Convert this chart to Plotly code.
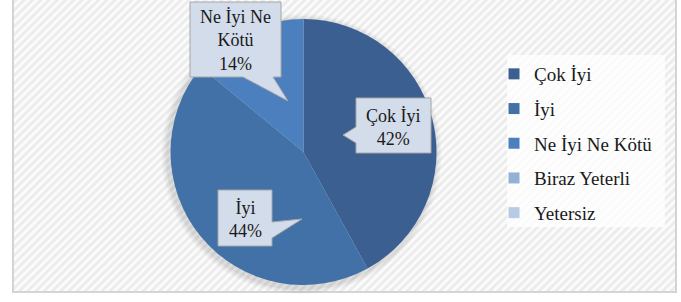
import base64
import plotly.graph_objects as go

# ---- data ----
categories = ["Çok İyi", "İyi", "Ne İyi Ne Kötü", "Biraz Yeterli", "Yetersiz"]
values = [42, 44, 14, 0, 0]
colors = ["#3a5f90", "#4271a8", "#4b7fbd", "#94b0d6", "#b8cbe4"]

W, H = 681, 302
FONT = "Liberation Serif"


def px(x):
    return x / W


def py(y):
    return 1 - y / H


# pie box in pixels
PIE_L, PIE_R, PIE_T, PIE_B = 170, 437, 19, 285

fig = go.Figure()
fig.add_trace(go.Pie(
    labels=categories, values=values, sort=False, direction="clockwise",
    rotation=0, marker=dict(colors=colors, line=dict(width=0)),
    textinfo="none", hoverinfo="label+percent", showlegend=False,
    domain=dict(x=[px(PIE_L), px(PIE_R)], y=[py(PIE_B), py(PIE_T)]),
))

# legend entries (one per category)
for i, (c, col) in enumerate(zip(categories, colors)):
    fig.add_trace(go.Scatter(
        x=[None], y=[None], mode="markers", name=c, legendgroup=f"g{i}",
        marker=dict(symbol="square", size=11, color=col), hoverinfo="skip",
    ))

shapes = []
# frame
shapes.append(dict(type="rect", xref="paper", yref="paper", layer="below",
                   x0=px(13), x1=px(676), y0=py(292), y1=py(-4),
                   line=dict(color="#d4d4d4", width=2), fillcolor="rgba(0,0,0,0)"))
# soft pie shadow
cx, cy = (PIE_L + PIE_R) / 2, (PIE_T + PIE_B) / 2
r = (PIE_B - PIE_T) / 2
for k, a in [(7, 0.03), (5, 0.04), (3, 0.05)]:
    shapes.append(dict(type="circle", xref="paper", yref="paper", layer="below",
                       x0=px(cx - r - k - 2), x1=px(cx + r + k - 2),
                       y0=py(cy + r + k + 2), y1=py(cy - r - k + 2),
                       line=dict(width=0), fillcolor=f"rgba(0,0,0,{a})"))
# legend background
shapes.append(dict(type="rect", xref="paper", yref="paper", layer="below",
                   x0=px(507), x1=px(665), y0=py(227), y1=py(55),
                   line=dict(width=0), fillcolor="rgba(255,255,255,0.75)"))


def callout(pts):
    d = "M " + " L ".join(f"{px(x)},{py(y)}" for x, y in pts) + " Z"
    return dict(type="path", xref="paper", yref="paper", path=d, layer="above",
                fillcolor="#d3dcea", line=dict(color="#a6a6a6", width=1))


# Ne İyi Ne Kötü: pointer from bottom edge
shapes.append(callout([(190, 2), (281, 2), (281, 77), (273, 77), (288, 101),
                       (243, 77), (190, 77)]))
# Çok İyi: pointer from left edge
shapes.append(callout([(356, 98), (431, 98), (431, 153), (356, 153), (356, 143),
                       (343, 135), (356, 127)]))
# İyi: pointer from right edge
shapes.append(callout([(218, 190), (272, 190), (272, 222), (302, 219), (272, 238),
                       (272, 246), (218, 246)]))

total = sum(values)
label_pos = {0: (393, 127), 1: (245, 219), 2: (235, 40)}
label_text = {0: "Çok İyi", 1: "İyi", 2: "Ne İyi Ne<br>Kötü"}
annotations = []
for i, (x, y) in label_pos.items():
    pct = round(values[i] / total * 100)
    annotations.append(dict(
        x=px(x), y=py(y), xref="paper", yref="paper", showarrow=False,
        xanchor="center", yanchor="middle",
        text=f"{label_text[i]}<br>{pct}%", align="center",
        font=dict(family=FONT, size=18, color="#1a1a1a"),
    ))

# hatch background image
svg = f'''<svg xmlns="http://www.w3.org/2000/svg" width="{W}" height="{H}">
<defs><pattern id="p" width="6" height="6" patternUnits="userSpaceOnUse" patternTransform="rotate(45)">
<rect width="6" height="6" fill="#fbfbfb"/><rect width="3" height="6" fill="#ececec"/></pattern></defs>
<rect width="{W}" height="{H}" fill="url(#p)"/></svg>'''
src = "data:image/svg+xml;base64," + base64.b64encode(svg.encode()).decode()

fig.update_layout(
    width=W, height=H, margin=dict(l=0, r=0, t=0, b=0),
    paper_bgcolor="white", plot_bgcolor="rgba(0,0,0,0)",
    font=dict(family=FONT),
    xaxis=dict(visible=False), yaxis=dict(visible=False),
    shapes=shapes, annotations=annotations,
    images=[dict(source=src, xref="paper", yref="paper", x=px(14), y=1,
                 sizex=px(676) - px(14), sizey=1 - py(291), sizing="stretch",
                 xanchor="left", yanchor="top", layer="below")],
    legend=dict(x=px(494), y=py(55), xanchor="left", yanchor="top",
                bgcolor="rgba(0,0,0,0)", font=dict(family=FONT, size=19, color="#1a1a1a"),
                itemwidth=30, tracegroupgap=7, traceorder="grouped"),
    showlegend=True,
)

fig.write_html("out.html", config={"displayModeBar": False},
               post_script="document.body.style.margin='0';")
